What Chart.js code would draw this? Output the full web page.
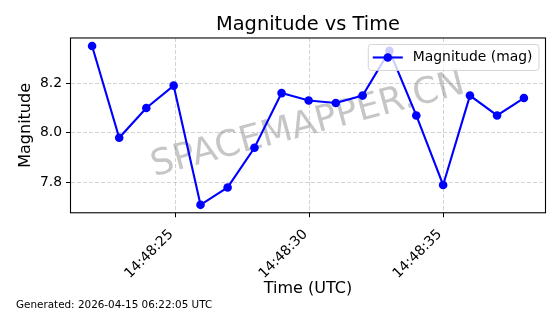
<!DOCTYPE html>
<html>
<head>
<meta charset="utf-8">
<script src="https://cdn.jsdelivr.net/npm/chart.js@4.4.1/dist/chart.umd.min.js"></script>
<style>
  html, body { margin: 0; padding: 0; background: #fff; }
  #wrap { width: 560px; height: 314px; }
</style>
</head>
<body>
<div id="wrap"><canvas id="magChart" width="560" height="314"></canvas></div>
<script>
// seconds past 14:48:00 UTC
const timeSecs = [21.90, 22.91, 23.92, 24.94, 25.94, 26.95, 27.95, 28.96, 29.97, 30.98, 31.98, 32.98, 33.98, 34.98, 35.98, 36.99, 37.99];
const magnitudes = [8.35, 7.98, 8.10, 8.19, 7.71, 7.78, 7.94, 8.16, 8.13, 8.12, 8.15, 8.33, 8.07, 7.79, 8.15, 8.07, 8.14];
const xTicks = [25, 30, 35];
const xTickLabels = ["14:48:25", "14:48:30", "14:48:35"];
const yTicks = [7.8, 8.0, 8.2];
const yTickLabels = ["7.8", "8.0", "8.2"];
const seriesLabel = "Magnitude (mag)";
const generatedText = "Generated: 2026-04-15 06:22:05 UTC";
const watermarkText = "SPACEMAPPER.CN";

const FONT = "'DejaVu Sans', sans-serif";
const BLUE = "#0000ff";

// matplotlib style 5% margins
function padRange(vals) {
  const lo = Math.min(...vals);
  const hi = Math.max(...vals);
  const m = (hi - lo) * 0.05;
  return [lo - m, hi + m];
}
const [xMin, xMax] = padRange(timeSecs);
const [yMin, yMax] = padRange(magnitudes);

const points = timeSecs.map((t, i) => ({ x: t, y: magnitudes[i] }));

const decor = {
  id: "decor",
  beforeDatasetsDraw(chart) {
    const { ctx, chartArea: a } = chart;
    ctx.save();
    ctx.translate((a.left + a.right) / 2, (a.top + a.bottom) / 2);
    ctx.rotate(-15 * Math.PI / 180);
    ctx.font = "36px " + FONT;
    ctx.fillStyle = "rgba(128,128,128,0.45)";
    ctx.textAlign = "center";
    ctx.textBaseline = "middle";
    ctx.fillText(watermarkText, 0, 0);
    ctx.restore();
  },
  afterDatasetsDraw(chart) {
    const { ctx, chartArea: a } = chart;
    ctx.save();
    // frame
    ctx.strokeStyle = "#000";
    ctx.lineWidth = 1.1;
    ctx.strokeRect(a.left, a.top, a.right - a.left, a.bottom - a.top);

    // legend
    ctx.font = "13.9px " + FONT;
    const tw = ctx.measureText(seriesLabel).width;
    const right = a.right - 7;
    const top = a.top + 6;
    const h = 26;
    const w = 45 + tw + 6;
    const left = right - w;
    ctx.beginPath();
    ctx.roundRect(left + 0.5, top + 0.5, w, h, 3);
    ctx.fillStyle = "rgba(255,255,255,0.8)";
    ctx.fill();
    ctx.strokeStyle = "rgba(204,204,204,0.8)";
    ctx.lineWidth = 1;
    ctx.stroke();
    const cy = top + h / 2 + 0.5;
    ctx.beginPath();
    ctx.moveTo(left + 5, cy);
    ctx.lineTo(left + 35, cy);
    ctx.strokeStyle = BLUE;
    ctx.lineWidth = 2.1;
    ctx.stroke();
    ctx.beginPath();
    ctx.arc(left + 20, cy, 4.3, 0, Math.PI * 2);
    ctx.fillStyle = BLUE;
    ctx.fill();
    ctx.fillStyle = "#000";
    ctx.textBaseline = "middle";
    ctx.fillText(seriesLabel, left + 45, cy);
    ctx.restore();
  }
};

new Chart(document.getElementById("magChart"), {
  type: "line",
  data: {
    datasets: [
      {
        label: seriesLabel,
        data: points,
        borderColor: BLUE,
        backgroundColor: BLUE,
        borderWidth: 2.1,
        pointRadius: 4.3,
        pointBorderWidth: 0,
        pointBackgroundColor: BLUE,
        tension: 0,
      },
    ],
  },
  options: {
    responsive: false,
    animation: false,
    layout: { padding: { left: 16, right: 14.5, top: 0, bottom: 0 } },
    scales: {
      x: {
        type: "linear",
        min: xMin,
        max: xMax,
        afterBuildTicks: (s) => { s.ticks = xTicks.map((v) => ({ value: v })); },
        afterFit: (s) => { s.height = 86; },
        ticks: {
          font: { family: FONT, size: 13.9 },
          color: "#000",
          minRotation: 45,
          maxRotation: 45,
          autoSkip: false,
          padding: 9,
          labelOffset: -4,
          callback: (v) => xTickLabels[xTicks.indexOf(v)],
        },
        grid: {
          color: "rgba(176,176,176,0.7)",
          tickColor: "#000",
          tickLength: 4.5,
          lineWidth: 0.8,
          tickWidth: 1,
        },
        border: { display: false, dash: [4, 2] },
        title: {
          display: true,
          text: "Time (UTC)",
          color: "#000",
          font: { family: FONT, size: 16 },
          padding: { top: 0, bottom: 0 },
        },
      },
      y: {
        min: yMin,
        max: yMax,
        afterBuildTicks: (s) => { s.ticks = yTicks.map((v) => ({ value: v })); },
        afterFit: (s) => { s.width = 54.5; },
        ticks: {
          font: { family: FONT, size: 13.9 },
          color: "#000",
          padding: 4,
          callback: (v) => yTickLabels[yTicks.findIndex((t) => Math.abs(t - v) < 1e-9)],
        },
        grid: {
          color: "rgba(176,176,176,0.7)",
          tickColor: "#000",
          tickLength: 4.5,
          lineWidth: 0.8,
          tickWidth: 1,
        },
        border: { display: false, dash: [4, 2] },
        title: {
          display: true,
          text: "Magnitude",
          color: "#000",
          font: { family: FONT, size: 16 },
          padding: { top: 0, bottom: 0 },
        },
      },
    },
    plugins: {
      legend: { display: false },
      tooltip: { enabled: false },
      title: {
        display: true,
        fullSize: false,
        text: "Magnitude vs Time",
        color: "#000",
        font: { family: FONT, size: 19.4, weight: "normal" },
        padding: { top: 13, bottom: 1.7 },
      },
      subtitle: {
        display: true,
        position: "bottom",
        align: "start",
        text: generatedText,
        color: "#000",
        font: { family: FONT, size: 10.4 },
        padding: { top: 0, bottom: 2.75 },
      },
    },
  },
  plugins: [decor],
});
</script>
</body>
</html>
